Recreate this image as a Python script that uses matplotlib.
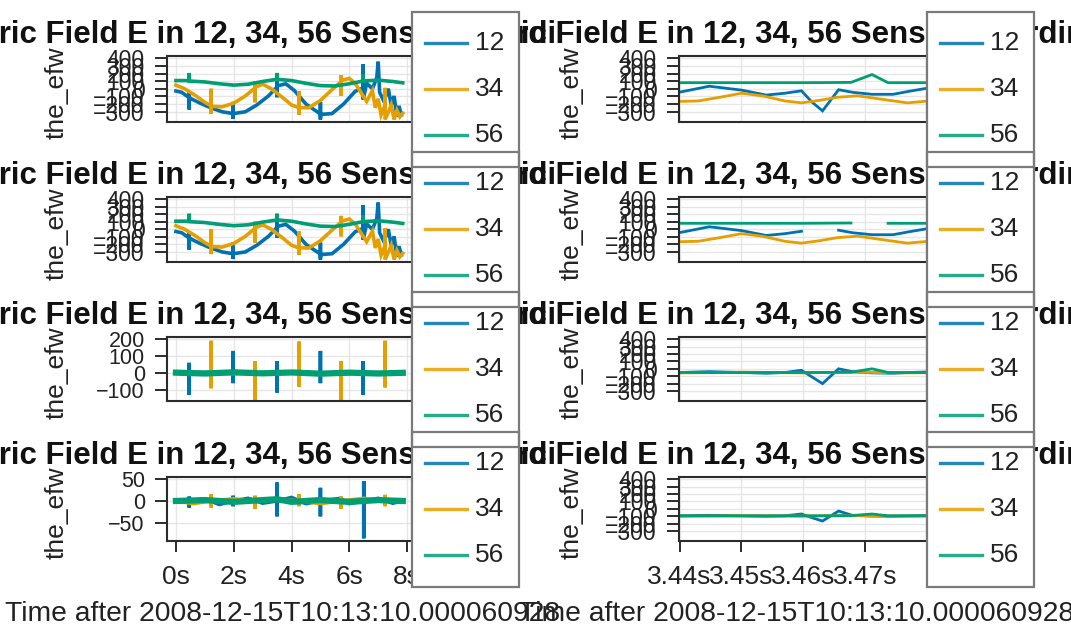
import numpy as np
import matplotlib.pyplot as plt
from matplotlib.patches import Rectangle
from matplotlib.lines import Line2D
from matplotlib.transforms import Bbox

plt.rcParams['font.family'] = ['Liberation Sans', 'DejaVu Sans']

W, H = 1071, 624

def fx(px):
    return px / W

def fy(py):
    return 1 - py / H

# ---- data: full interval (0-8 s), raw signal (rows 1 and 2, left) ----
t12_raw = [0.0, 0.2, 0.46, 0.46, 0.46, 0.46, 0.8, 1.2, 1.6, 1.98, 1.98, 1.98, 1.98, 2.4, 2.8, 3.2, 3.5, 3.5, 3.5, 3.5,
           3.8, 4.1, 4.5, 5.0, 5.0, 5.0, 5.0, 5.4, 5.8, 6.2, 6.48, 6.48, 6.48, 6.6, 6.8, 6.95, 7.0, 7.05, 7.2, 7.35,
           7.45, 7.55, 7.65, 7.72, 7.8]
v12_raw = [-29, -46, -117, -46, -271, -117, -182, -248, -301, -325, -171, -396, -325, -301, -212, -94, 25, 108, -111,
           37, 66, -23, -200, -330, -177, -402, -336, -325, -200, -34, 13, 321, -141, 72, 1, 143, 356, -46, -165, 1,
           -212, -94, -366, -224, -342]
t34_raw = [0.0, 0.3, 0.7, 1.0, 1.22, 1.22, 1.22, 1.22, 1.6, 2.0, 2.4, 2.74, 2.74, 2.74, 2.74, 3.0, 3.3, 3.7, 4.0,
           4.26, 4.26, 4.26, 4.26, 4.6, 5.0, 5.4, 5.72, 5.72, 5.72, 5.72, 6.0, 6.2, 6.4, 6.6, 6.8, 6.9, 7.0, 7.1,
           7.24, 7.24, 7.24, 7.35, 7.45, 7.55, 7.65, 7.75, 7.85]
v34_raw = [48, 1, -94, -177, -224, 1, -330, -230, -236, -188, -94, 13, 102, -177, 19, 60, 1, -117, -212,
           -248, -29, -342, -248, -248, -153, -11, 96, 179, -94, 108, 137, 72, -46, -165, -23, -248, -129, -342,
           -212, 13, -402, -307, -212, -402, -283, -366, -319]
t56_raw = [0.0, 0.46, 0.46, 0.46, 1.0, 1.5, 2.0, 2.5, 3.0, 3.5, 3.5, 3.5, 4.0, 4.5, 5.0, 5.5, 6.0, 6.48, 6.48, 6.48,
           7.0, 7.5, 7.85]
v56_raw = [108, 108, 208, 102, 90, 66, 48, 60, 96, 125, 208, 125, 108, 72, 42, 37, 66, 102, 190, 102, 114, 96, 78]

# ---- full interval, high-pass (row 3, left) ----
t12_hp = [0.0, 0.46, 0.46, 0.46, 0.46, 1.2, 1.98, 1.98, 1.98, 1.98, 2.7, 3.5, 3.5, 3.5, 3.5, 4.2, 5.0, 5.0, 5.0, 5.0,
          5.7, 6.48, 6.48, 6.48, 6.48, 7.2, 7.85]
v12_hp = [0, 0, 60, -130, 0, 4, 0, 130, -60, 0, -4, 0, 70, -115, 0, 4, 0, 130, -60, 0, -4, 0, 70, -130, 0, 3, 0]
t34_hp = [0.0, 0.6, 1.22, 1.22, 1.22, 1.22, 2.0, 2.74, 2.74, 2.74, 2.74, 3.5, 4.26, 4.26, 4.26, 4.26, 5.0, 5.72,
          5.72, 5.72, 5.72, 6.5, 7.24, 7.24, 7.24, 7.24, 7.85]
v34_hp = [0, 4, 0, 190, -90, 0, -4, 0, 70, -160, 0, 4, 0, 185, -80, 0, -4, 0, 70, -160, 0, 4, 0, 190, -85, 0, 0]
t56_hp = [0.0, 1.0, 2.0, 3.0, 4.0, 5.0, 6.0, 7.0, 7.85]
v56_hp = [2, -3, 4, -2, 3, -4, 2, -3, 1]

# ---- full interval, low-amplitude (row 4, left) ----
t12_lo = [0.0, 0.46, 0.46, 0.46, 0.46, 1.0, 1.5, 1.98, 1.98, 1.98, 1.98, 2.5, 3.0, 3.5, 3.5, 3.5, 3.5, 4.0, 4.5,
          5.0, 5.0, 5.0, 5.0, 5.7, 6.0, 6.5, 6.5, 6.5, 6.5, 7.0, 7.5, 7.85]
v12_lo = [0, 0, 10, -15, 0, 5, -8, 0, 12, -12, 0, 6, -5, 0, 42, -35, 0, 8, -6, 0, 30, -35, 0, 6, -6, 0, 45, -85, 0,
          6, -5, 0]
t34_lo = [0.0, 0.6, 1.22, 1.22, 1.22, 1.22, 2.0, 2.74, 2.74, 2.74, 2.74, 3.5, 4.26, 4.26, 4.26, 4.26, 5.0, 5.72,
          5.72, 5.72, 5.72, 6.5, 7.24, 7.24, 7.24, 7.24, 7.85]
v34_lo = [0, -6, 0, 15, -15, 0, 5, 0, 12, -18, 0, 5, 0, 15, -12, 0, -6, 0, 10, -18, 0, 6, 0, 14, -12, 0, 0]
t56_lo = [0.0, 1.0, 2.0, 3.0, 3.5, 4.0, 5.0, 6.0, 7.0, 7.85]
v56_lo = [0, 2, -2, 2, 4, -2, 2, -2, 2, 0]

# ---- zoomed interval (3.44-3.48 s) ----
tz12 = [3.440, 3.4448, 3.450, 3.454, 3.457, 3.4597, 3.4614, 3.4631, 3.4657, 3.468, 3.4711, 3.4745, 3.477, 3.4803]
vz12_raw = [-44, 34, -17, -82, -58, -26, -174, -289, -12, -46, -72, -72, -34, 12]
vz12_clean = [-44, 34, -17, -82, -58, -26, np.nan, np.nan, -12, -46, -72, -72, -34, 12]
vz12_hp = [-50, -38, -50, -60, -50, -20, -110, -200, 0, -40, -55, -60, -50, -42]
vz12_lo = [-95, -88, -95, -100, -95, -70, -120, -165, -30, -90, -98, -100, -95, -90]
tz34 = [3.440, 3.443, 3.4465, 3.450, 3.4535, 3.457, 3.4597, 3.4625, 3.4655, 3.4688, 3.472, 3.4768, 3.4803]
vz34_raw = [-165, -159, -111, -58, -94, -159, -184, -153, -111, -91, -129, -184, -159]
vz34_hp = [-55, -54, -50, -45, -48, -53, -55, -52, -48, -45, -50, -55, -53]
vz34_lo = [-98, -98, -96, -93, -94, -97, -98, -96, -94, -92, -95, -98, -97]
tz56 = [3.440, 3.450, 3.460, 3.4677, 3.4711, 3.4737, 3.480]
vz56_raw = [80, 80, 80, 84, 187, 80, 80]
vz56_clean = [80, 80, 80, 84, np.nan, 80, 80]
vz56_hp = [-50, -50, -50, -47, 0, -50, -50]
vz56_lo = [-95, -95, -95, -92, -70, -95, -95]

labels = ['12', '34', '56']
colors = ['#0072B2', '#E69F00', '#009E73']

title = 'Electric Field E in 12, 34, 56 Sensor Coordinates'
xlabel = 'Time after 2008-12-15T10:13:10.000060928'

# panel table built from the arrays above
panels = [
    [[(t12_raw, v12_raw), (t34_raw, v34_raw), (t56_raw, v56_raw)],
     [(tz12, vz12_raw), (tz34, vz34_raw), (tz56, vz56_raw)]],
    [[(t12_raw, v12_raw), (t34_raw, v34_raw), (t56_raw, v56_raw)],
     [(tz12, vz12_clean), (tz34, vz34_raw), (tz56, vz56_clean)]],
    [[(t12_hp, v12_hp), (t34_hp, v34_hp), (t56_hp, v56_hp)],
     [(tz12, vz12_hp), (tz34, vz34_hp), (tz56, vz56_hp)]],
    [[(t12_lo, v12_lo), (t34_lo, v34_lo), (t56_lo, v56_lo)],
     [(tz12, vz12_lo), (tz34, vz34_lo), (tz56, vz56_lo)]],
]

big_ticks = np.arange(-300, 401, 100)
left_ylims = [(-435, 430), (-435, 430), (-165, 212), (-91, 54.5)]
left_yticks = [big_ticks, big_ticks, [-100, 0, 100, 200], [-50, 0, 50]]
right_ylim = (-435, 430)

row_top = [56, 197, 337, 477]
row_bot = [122, 262, 401, 541]
col_left = [167, 679]
col_right = [412, 927]
spine_col = '#2b2b2b'
title_size = 22.5

fig = plt.figure(figsize=(W / 100, H / 100), dpi=100)
renderer = fig.canvas.get_renderer()

# width of "Electric " so that the word "Field" lands where it does in the reference
tmp1 = fig.text(0, 0, 'Electric Field', fontsize=title_size, weight='bold')
tmp2 = fig.text(0, 0, 'Field', fontsize=title_size, weight='bold')
w_elec = tmp1.get_window_extent(renderer).width - tmp2.get_window_extent(renderer).width
tmp1.remove()
tmp2.remove()
field_x = [46, 556]
title_clip = [Bbox.from_extents(-200, 0, 556, H), Bbox.from_extents(-200, 0, W + 200, H)]

for r in range(4):
    for c in range(2):
        x0, x1 = col_left[c], col_right[c]
        y0, y1 = row_top[r], row_bot[r]
        ax = fig.add_axes([fx(x0), fy(y1), (x1 - x0) / W, (y1 - y0) / H])
        lw = 2.6 if c == 0 else 2.0
        for k, (tt, vv) in enumerate(panels[r][c]):
            width = lw
            if c == 0 and r >= 2 and k == 2:
                width = 4.5
            ax.plot(tt, vv, color=colors[k], lw=width, solid_joinstyle='miter')
        if c == 0:
            ax.set_xlim(-0.31, 8.17)
            ax.set_xticks([0, 2, 4, 6, 8])
            ax.set_xticklabels(['0s', '2s', '4s', '6s', '8s'])
            ax.set_ylim(*left_ylims[r])
            ax.set_yticks(left_yticks[r])
        else:
            ax.set_xlim(3.4399, 3.47999)
            ax.set_xticks([3.44, 3.45, 3.46, 3.47])
            ax.set_xticklabels(['3.44s', '3.45s', '3.46s', '3.47s'])
            ax.set_ylim(*right_ylim)
            ax.set_yticks(big_ticks)
        ax.grid(True, color='#e6e6e6', lw=1.0)
        ax.set_axisbelow(True)
        for s in ax.spines.values():
            s.set_color(spine_col)
            s.set_linewidth(1.5)
        ysize = 16.5 if (c == 1 or r < 2) else 15.5
        ax.tick_params(axis='y', direction='out', length=9, width=1.4, color=spine_col,
                       pad=7, labelsize=ysize, labelcolor='#222222')
        if r < 3:
            ax.tick_params(axis='x', length=0, labelbottom=False)
        else:
            ax.tick_params(axis='x', direction='out', length=8, width=1.4, color=spine_col,
                           pad=9, labelsize=19, labelcolor='#222222')
            fig.text(fx([5, 519][c]), fy(621), xlabel, fontsize=20.3, color='#222222',
                     ha='left', va='baseline')
        # title (under the legends)
        tt = fig.text(fx(field_x[c] - w_elec), fy(y0 - 21), title, fontsize=title_size, weight='bold',
                      color='#111111', ha='left', va='center', zorder=-1)
        tt.set_clip_box(title_clip[c])
        # y label
        fig.text(fx([57, 572][c]), fy((y0 + y1) / 2 + 4), 'the_efw', fontsize=19, rotation=90,
                 color='#222222', ha='center', va='center', zorder=-1)

# stacked legend boxes
leg_left = [412, 927]
leg_w, leg_h = 107, 155
for r in range(4):
    for c in range(2):
        lx0 = leg_left[c]
        ly0 = 12 + 140 * r
        fig.patches.append(Rectangle((fx(lx0), fy(ly0 + leg_h)), leg_w / W, leg_h / H,
                                     transform=fig.transFigure, facecolor='white',
                                     edgecolor='none', zorder=10 + 2 * r))
        fig.patches.append(Rectangle((fx(lx0), fy(ly0 + leg_h)), leg_w / W, leg_h / H,
                                     transform=fig.transFigure, facecolor='none',
                                     edgecolor='#7a7a7a', lw=1.6, zorder=30))
        for k in range(3):
            yy = ly0 + 31 + 46 * k
            fig.lines.append(Line2D([fx(lx0 + 13), fx(lx0 + 55)], [fy(yy), fy(yy)],
                                    transform=fig.transFigure, color=colors[k], lw=2.4,
                                    alpha=0.85, zorder=11 + 2 * r))
            fig.text(fx(lx0 + 63), fy(yy), labels[k], fontsize=19, color='#222222',
                     ha='left', va='center', zorder=11 + 2 * r)

fig.savefig('out.png', dpi=100)
